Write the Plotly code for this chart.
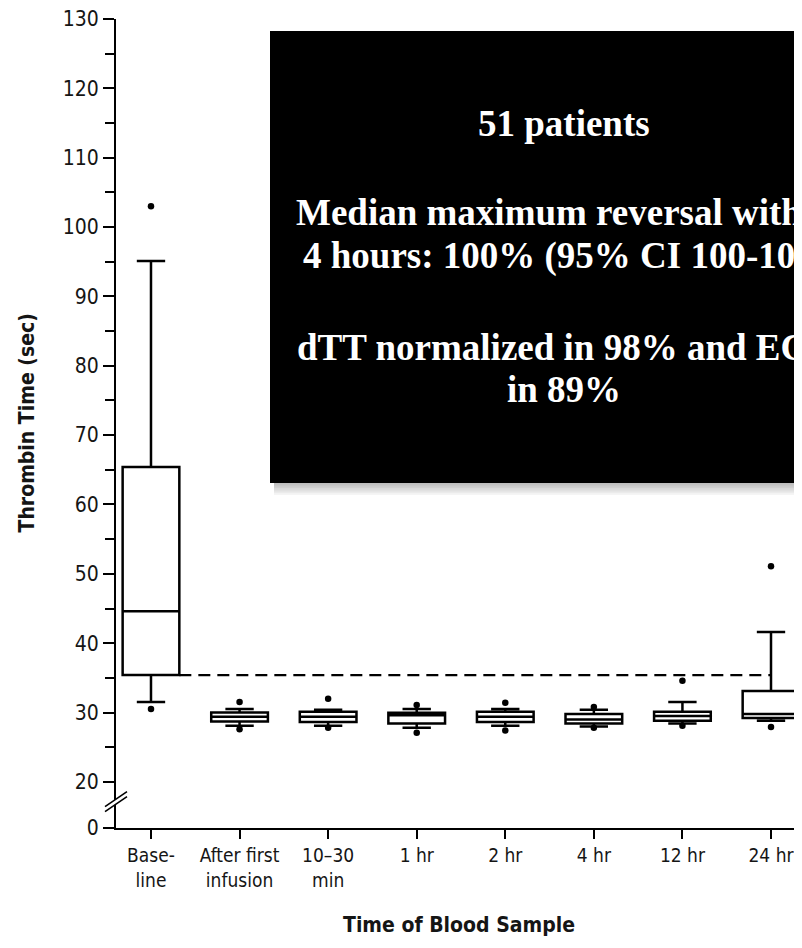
import plotly.graph_objects as go

# ---------------- data ----------------
categories = ["Base-<br>line", "After first<br>infusion", "10–30<br>min", "1 hr",
              "2 hr", "4 hr", "12 hr", "24 hr"]
q1 = [35.4, 28.7, 28.65, 28.4, 28.65, 28.4, 28.8, 29.2]
median = [44.6, 29.4, 29.4, 29.6, 29.4, 29.0, 29.5, 29.8]
q3 = [65.4, 30.0, 30.1, 29.95, 30.1, 29.8, 30.1, 33.1]
lower_whisker = [31.5, 28.1, 28.1, 27.8, 28.1, 28.0, 28.4, 28.8]
upper_whisker = [95.1, 30.5, 30.4, 30.5, 30.5, 30.4, 31.5, 41.6]

outlier_cat = ["Base-<br>line", "Base-<br>line", "After first<br>infusion", "After first<br>infusion",
               "10–30<br>min", "10–30<br>min", "1 hr", "1 hr", "2 hr", "2 hr",
               "4 hr", "4 hr", "12 hr", "12 hr", "24 hr", "24 hr"]
outlier_val = [103.0, 30.5, 31.5, 27.6, 32.0, 27.8, 31.1, 27.1, 31.4, 27.4,
               30.8, 27.8, 34.6, 28.1, 51.1, 27.9]

normal_upper_limit = 35.4          # dashed reference line (sec)
y_tick_values = [20, 30, 40, 50, 60, 70, 80, 90, 100, 110, 120, 130]
y_minor_ticks = [25, 35, 45, 55, 65, 75, 85, 95, 105, 115, 125]
zero_position = 13.35              # where "0" sits on the broken axis
y_top = 130

annotation_lines = ["51 patients",
                    "Median maximum reversal within",
                    "4 hours: 100% (95% CI 100-100)",
                    "dTT normalized in 98% and ECT",
                    "in 89%"]
annotation_line_centers = [123, 212, 256, 347, 390]   # page pixel rows

# ---------------- layout geometry ----------------
# page body has an 8px margin; figure is sized so the page is exactly filled
BODY = 8
W, H = 802 - BODY, 948 - 2 * BODY
PLOT_L, PLOT_R, PLOT_T, PLOT_B = 116, 802, 19, 828      # page pixels
ML, MR, MT = PLOT_L - BODY, 0, PLOT_T - BODY
MB = H - (PLOT_B - BODY)
PW, PH = PLOT_R - PLOT_L, PLOT_B - PLOT_T


def px_x(px):
    return (px - PLOT_L) / PW


def px_y(py):
    return (PLOT_B - py) / PH


SANS = "Liberation Sans Narrow, DejaVu Sans Condensed, Arial Narrow, sans-serif"
SERIF = "Liberation Serif, Times New Roman, serif"
INK = "#151515"

fig = go.Figure()

fig.add_trace(go.Box(
    x=categories, q1=q1, median=median, q3=q3,
    lowerfence=lower_whisker, upperfence=upper_whisker,
    boxpoints=False, fillcolor="white",
    line=dict(color="black", width=2.5),
    whiskerwidth=0.5, width=0.64, showlegend=False, hoverinfo="skip",
))

fig.add_trace(go.Scatter(
    x=outlier_cat, y=outlier_val, mode="markers",
    marker=dict(color="black", size=6.5), showlegend=False, hoverinfo="skip",
))

shapes = []
# dashed reference line
shapes.append(dict(type="line", xref="x", yref="y", x0=0.32, x1=7,
                   y0=normal_upper_limit, y1=normal_upper_limit,
                   line=dict(color="black", width=2.2, dash="12px,7px"), layer="below"))

# axis break marks
brk_y = 17.3
shapes.append(dict(type="path", xref="paper", yref="y", xsizemode="pixel", ysizemode="pixel",
                   xanchor=0, yanchor=brk_y,
                   path="M -11,-6 L 11,9 L 11,4 L -11,-11 Z",
                   fillcolor="white", line=dict(width=0), layer="above"))
for off in (0, -5):
    shapes.append(dict(type="line", xref="paper", yref="y", xsizemode="pixel", ysizemode="pixel",
                       xanchor=0, yanchor=brk_y,
                       x0=-11, x1=11, y0=-6 + off, y1=9 + off,
                       line=dict(color="black", width=1.6), layer="above"))

# black text box with soft shadow
bx0, bx1, by0, by1 = 270, 830, 31, 483
for k in range(1, 8):
    shapes.append(dict(type="rect", xref="paper", yref="paper",
                       x0=px_x(bx0 + 4), x1=px_x(bx1),
                       y0=px_y(by1 + 1.7 * k), y1=px_y(by0 + 1.7 * k),
                       fillcolor="black", opacity=0.04, line=dict(width=0), layer="above"))
shapes.append(dict(type="rect", xref="paper", yref="paper",
                   x0=px_x(bx0), x1=px_x(bx1), y0=px_y(by1), y1=px_y(by0),
                   fillcolor="black", line=dict(width=0), layer="above"))

annotations = []
for line_text, yc in zip(annotation_lines, annotation_line_centers):
    annotations.append(dict(
        text=line_text, xref="paper", yref="paper",
        x=px_x(564), y=px_y(yc), xanchor="center", yanchor="middle",
        showarrow=False, align="center",
        font=dict(family=SERIF, size=37, color="white", weight="bold")))

annotations += [
    dict(text="<b>Time of Blood Sample</b>", xref="paper", yref="paper",
         x=0.5, y=px_y(925), xanchor="center", yanchor="middle", showarrow=False,
         font=dict(family=SANS, size=21, color=INK)),
    dict(text="<b>Thrombin Time (sec)</b>", xref="paper", yref="paper",
         x=px_x(26), y=0.5, xanchor="center", yanchor="middle", showarrow=False,
         textangle=-90, font=dict(family=SANS, size=21, color=INK)),
]

fig.update_layout(
    width=W, height=H,
    margin=dict(l=ML, r=MR, t=MT, b=MB, pad=0),
    paper_bgcolor="white", plot_bgcolor="white",
    shapes=shapes, annotations=annotations, showlegend=False,
    font=dict(family=SANS, color=INK),
)

fig.update_xaxes(
    type="category", range=[-0.395, 7.35],
    showline=True, linecolor="black", linewidth=2,
    ticks="outside", ticklen=9, tickwidth=2, tickcolor="black",
    showgrid=False, zeroline=False, ticklabeloverflow="allow",
    tickfont=dict(family=SANS, size=19, color=INK),
)

fig.update_yaxes(
    range=[zero_position, y_top],
    tickmode="array",
    tickvals=[zero_position] + y_tick_values,
    ticktext=["0"] + [str(v) for v in y_tick_values],
    showline=True, linecolor="black", linewidth=2,
    ticks="outside", ticklen=11, tickwidth=2, tickcolor="black",
    minor=dict(tickmode="array", tickvals=y_minor_ticks, ticks="outside",
               ticklen=9, tickwidth=2, tickcolor="black", showgrid=False),
    showgrid=False, zeroline=False, ticklabeloverflow="allow",
    tickfont=dict(family=SANS, size=21, color=INK),
)

fig.write_html("out.html")
